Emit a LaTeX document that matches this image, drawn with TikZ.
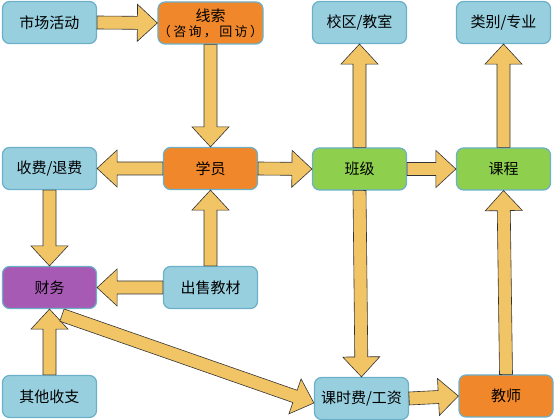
\documentclass[tikz,border=0pt]{standalone}
\usepackage{fontspec}
\setmainfont{Noto Sans CJK SC}
\usetikzlibrary{calc}
\definecolor{boxblue}{HTML}{97CFDF}
\definecolor{boxorange}{HTML}{F0872A}
\definecolor{boxgreen}{HTML}{8ED04E}
\definecolor{boxpurple}{HTML}{A65AB4}
\definecolor{boxline}{HTML}{6BB0C8}
\definecolor{arrowfill}{HTML}{F1C566}
\newcommand*{\Small}[1]{{\fontsize{13pt}{15pt}\selectfont\addfontfeature{LetterSpace=18}#1}}

\begin{document}
\begin{tikzpicture}[x=1pt, y=1pt,
    box/.style={draw=boxline, line width=1.2pt, rounded corners=7pt, minimum width=94pt,
      minimum height=42pt, inner sep=2pt, font=\fontsize{15pt}{17pt}\selectfont},
    fat/.style={draw=black!80, line width=0.6pt, fill=arrowfill, line join=miter,
      to path={let \p1=(\tikztostart), \p2=(\tikztotarget),
        \n1={atan2(\y2-\y1,\x2-\x1)}, \n2={veclen(\x2-\x1,\y2-\y1)} in
        ([shift={(\p1)},rotate=\n1]0pt,6.5pt) -- ([shift={(\p1)},rotate=\n1]\n2-20pt,6.5pt)
        -- ([shift={(\p1)},rotate=\n1]\n2-20pt,18.5pt) -- (\p2)
        -- ([shift={(\p1)},rotate=\n1]\n2-20pt,-18.5pt) -- ([shift={(\p1)},rotate=\n1]\n2-20pt,-6.5pt)
        -- ([shift={(\p1)},rotate=\n1]0pt,-6.5pt) -- cycle}}]
  \useasboundingbox (0,0) rectangle (555,420);

  \foreach \nm/\px/\py/\col/\txt in {
      shichang/49.5/397.5/boxblue/市场活动, xiaoqu/359.5/397.5/boxblue/{校区/教室},
      leibie/503.5/397.5/boxblue/{类别/专业}, shoufei/49.5/251.5/boxblue/{收费/退费},
      xueyuan/210.5/251.5/boxorange/学员, banji/359.5/251/boxgreen/班级,
      kecheng/503.5/251/boxgreen/课程, caiwu/49.5/132.5/boxpurple/财务,
      chushou/210.5/132.5/boxblue/出售教材, qita/49.5/23.5/boxblue/其他收支,
      keshi/361.5/21.5/boxblue/{课时费/工资}, jiaoshi/506/24/boxorange/教师}
    \node[box, fill=\col] (\nm) at (\px,\py) {\txt};
  \node[box, fill=boxorange, minimum width=101pt, align=center, inner sep=0pt] (xiansuo) at (210.5,397)
    {线索\\[-2pt]\Small{（咨询，回访）}};

  \foreach \a/\b in {shichang.east/xiansuo.west, xiansuo.south/xueyuan.north,
      xueyuan.west/shoufei.east, xueyuan.east/banji.west, banji.east/kecheng.west,
      banji.north/xiaoqu.south, kecheng.north/leibie.south, shoufei.south/caiwu.north,
      chushou.north/xueyuan.south, chushou.west/caiwu.east, qita.north/caiwu.south,
      banji.south/keshi.north, keshi.east/jiaoshi.west, jiaoshi.north/kecheng.south}
    \draw[fat] (\a) to (\b);
  \draw[fat] ([yshift=-6pt]caiwu.-60) to ([yshift=-4.5pt]keshi.west);
\end{tikzpicture}
\end{document}
